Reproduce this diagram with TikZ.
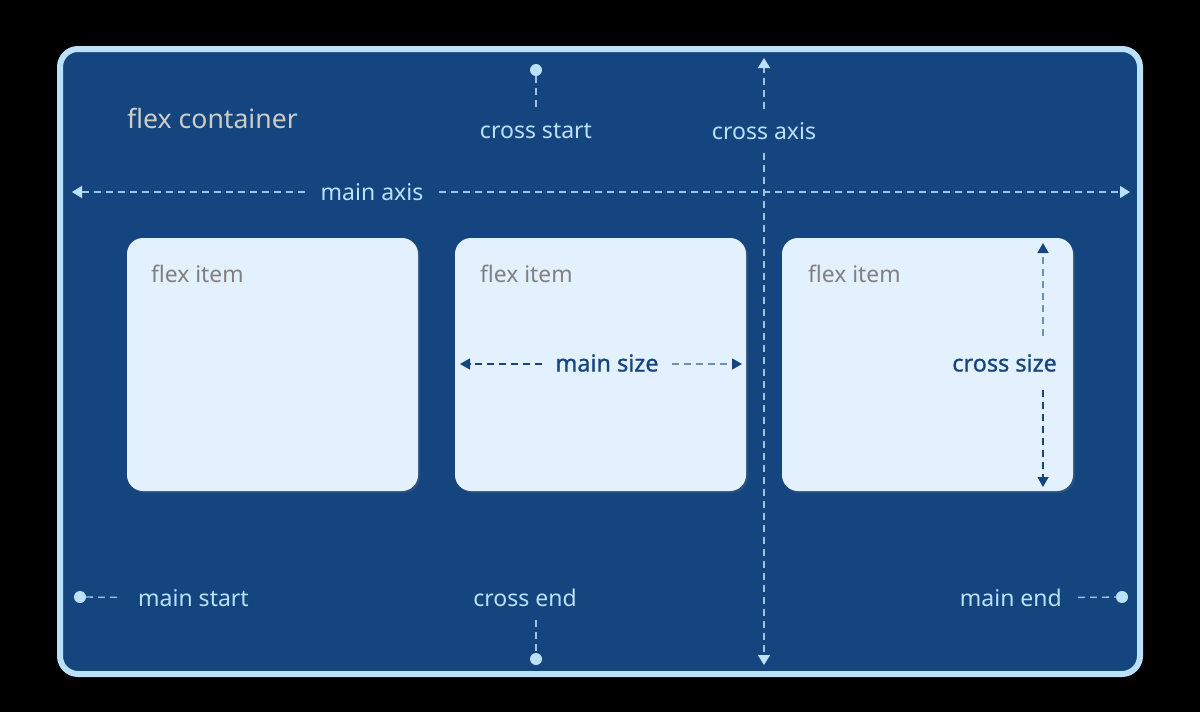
\documentclass[tikz,border=0pt]{standalone}
\usepackage{fontspec}
\setmainfont{Noto Sans}
\newfontfamily\medfont{Noto Sans}[FakeBold=0.9]
\usepackage{tikz}
\usetikzlibrary{
  arrows.meta,
  positioning,
  shadows
}
\definecolor{flexnavy}{HTML}{15457F}
\definecolor{flexsky}{HTML}{BBE1FA}
\definecolor{flexpale}{HTML}{E3F0FD}
\definecolor{flexgray}{HTML}{808080}
\definecolor{flexsilver}{HTML}{CFCCC6}
\definecolor{flexdash}{HTML}{9DC2E6}
\definecolor{flexfaint}{HTML}{6E8FBA}
\tikzset{
  container/.style={
    rectangle, draw=flexsky, fill=flexnavy, rounded corners=18pt,
    line width=6pt, minimum width=1080pt, minimum height=625pt
  },
  flexbox/.style={
    rectangle, fill=flexpale, rounded corners=16pt,
    minimum width=291pt, minimum height=253pt,
    drop shadow={opacity=0.2, shadow xshift=2pt, shadow yshift=-2pt}
  },
  itemlabel/.style={font=\fontsize{22.8}{27}\selectfont, text=flexgray, anchor=west, inner sep=0pt},
  axislabel/.style={font=\fontsize{23}{27}\selectfont, text=flexsky, inner xsep=16pt, inner ysep=13pt},
  sizelabel/.style={font=\medfont\fontsize{23.4}{28}\selectfont, text=flexnavy, inner xsep=13pt, inner ysep=18pt},
  dot/.style={circle, fill=flexsky, minimum size=12pt, inner sep=0pt},
  axisline/.style={draw=flexdash, line width=1.3pt, dash pattern=on 7pt off 5pt},
  axisarrow/.style={axisline, -{Triangle[length=10pt, width=12pt, color=flexsky]}},
  sizearrow/.style={draw=#1, line width=1.3pt, dash pattern=on 7pt off 5pt,
    -{Triangle[length=10pt, width=11pt, color=flexnavy]}},
  sizearrow/.default=flexnavy,
}
\begin{document}
\begin{tikzpicture}[x=1pt, y=-1pt]
\useasboundingbox (0,0) rectangle (1200,712);
\fill[black] (0,0) rectangle (1200,712);

% Container
\node[container] (container) at (600,361.5) {};
\node[font=\fontsize{26.6}{31}\selectfont, text=flexsilver, anchor=west, inner sep=0pt] (title) at (127,118) {flex container};

% Items
\node[flexbox] (item1) at (272.5,364.5) {};
\node[flexbox] (item2) at (600.5,364.5) {};
\node[flexbox] (item3) at (927.5,364.5) {};
\node[itemlabel] (label1) at (151,274) {flex item};
\node[itemlabel] (label2) at (480,274) {flex item};
\node[itemlabel] (label3) at (808,274) {flex item};

% Main axis
\node[axislabel] (mainaxis) at (372,192) {main axis};
\coordinate (ma-l) at (72,192);
\coordinate (ma-r) at (1130,192);
\draw[axisarrow] (mainaxis) -- (ma-l);
\draw[axisarrow] (mainaxis) -- (ma-r);

% Cross axis
\node[axislabel] (crossaxis) at (764,131) {cross axis};
\coordinate (ca-top) at (764,58);
\coordinate (ca-bot) at (764,665);
\draw[axisarrow] (crossaxis) -- (ca-top);
\draw[axisarrow] (crossaxis) -- (ca-bot);

% Start and end markers
\node[dot] (cs-dot) at (536,70) {};
\node[axislabel] (crossstart) at (536,131) {cross start};
\draw[axisline] (cs-dot) -- (crossstart);

\node[dot] (ce-dot) at (536,659) {};
\node[axislabel] (crossend) at (525,598) {cross end};
\draw[axisline] (crossend.south -| ce-dot) -- (ce-dot);

\node[dot] (ms-dot) at (80,597) {};
\node[axislabel, anchor=west] (mainstart) at (122,598) {main start};
\draw[axisline] (ms-dot) -- (mainstart);

\node[dot] (me-dot) at (1122,597) {};
\node[axislabel, anchor=east] (mainend) at (1078,598) {main end};
\draw[axisline] (mainend) -- (me-dot);

% Sizes
\node[sizelabel] (mainsize) at (607,363) {main size};
\coordinate (mz-l) at (460,364);
\coordinate (mz-r) at (742,364);
\draw[sizearrow] (mainsize.west |- mz-l) -- (mz-l);
\draw[sizearrow=flexfaint] (mainsize.east |- mz-r) -- (mz-r);

\node[sizelabel, anchor=east] (crosssize) at (1070,363) {cross size};
\coordinate (cz-top) at (1043,243);
\coordinate (cz-bot) at (1043,487);
\draw[sizearrow=flexfaint] (crosssize.north -| cz-top) -- (cz-top);
\draw[sizearrow] (crosssize.south -| cz-bot) -- (cz-bot);

\end{tikzpicture}
\end{document}
